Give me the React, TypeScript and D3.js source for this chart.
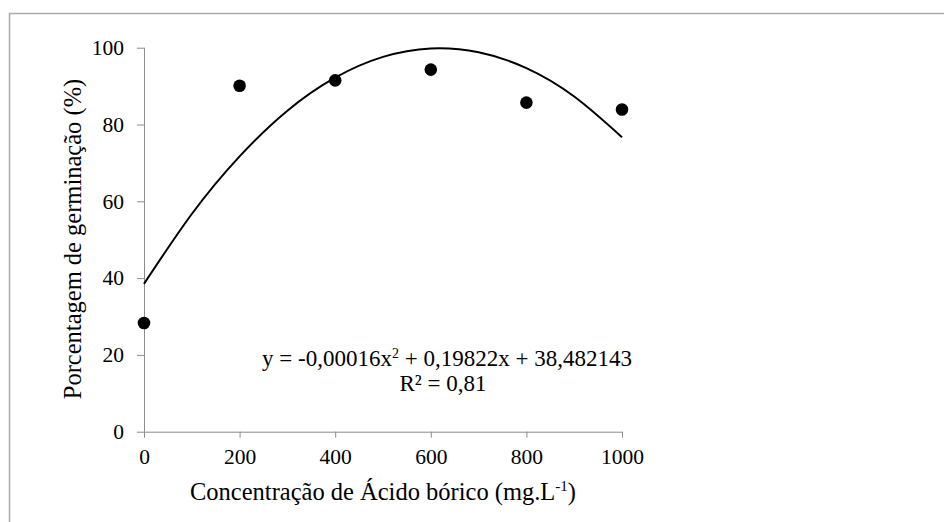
import React, { useEffect, useRef } from "react";
import * as d3 from "d3";

// pontos observados
const concentrations = [0, 200, 400, 600, 800, 1000];
const germination = [28.3, 90.1, 91.5, 94.3, 85.7, 83.9];

// linha de tendência
const trendX = [0, 100, 200, 300, 400, 500, 600, 700, 800, 900, 1000];
const trendY = [38.5, 56.7, 71.7, 83.6, 92.2, 97.6, 99.8, 98.8, 94.7, 87.3, 76.7];

const xTicks = [0, 200, 400, 600, 800, 1000];
const yTicks = [0, 20, 40, 60, 80, 100];

const xTitle = "Concentração de Ácido bórico (mg.L";
const yTitle = "Porcentagem de germinação (%)";
const equation = "y = -0,00016x";
const equationRest = " + 0,19822x + 38,482143";
const rSquared = "R² = 0,81";

export default function App() {
  const ref = useRef<SVGSVGElement>(null);

  useEffect(() => {
    const width = 944;
    const height = 522;
    const margin = { top: 47.7, left: 144, bottom: 90.3, right: 322 };
    const iwidth = width - margin.left - margin.right;
    const iheight = height - margin.top - margin.bottom;
    const font = "'Liberation Serif', 'Times New Roman', serif";
    const axisColor = "#8c8c8c";

    const svg = d3.select(ref.current);
    svg.selectAll("*").remove();

    svg
      .append("rect")
      .attr("x", 9.5)
      .attr("y", 13.5)
      .attr("width", 960)
      .attr("height", 540)
      .attr("fill", "white")
      .attr("stroke", "#ababab")
      .attr("stroke-width", 1.5);

    const g = svg
      .append("g")
      .attr("transform", `translate(${margin.left},${margin.top})`);

    const x = d3.scaleLinear().domain([0, 1000]).range([0, iwidth]);
    const y = d3.scaleLinear().domain([0, 100]).range([iheight, 0]);

    // eixo y
    const yAxis = g
      .append("g")
      .call(
        d3
          .axisLeft(y)
          .tickValues(yTicks)
          .tickSize(7)
          .tickPadding(13)
      );
    yAxis.select(".domain").attr("stroke", axisColor).attr("d", `M0.5,${iheight}V0`);
    yAxis.selectAll(".tick line").attr("stroke", axisColor);
    yAxis
      .selectAll("text")
      .attr("fill", "#000")
      .style("font-family", font)
      .style("font-size", "21.5px");

    // eixo x
    const xAxis = g
      .append("g")
      .attr("transform", `translate(0,${iheight})`)
      .call(
        d3
          .axisBottom(x)
          .tickValues(xTicks)
          .tickFormat(d3.format("d"))
          .tickSize(6)
          .tickPadding(11)
      );
    xAxis.select(".domain").attr("stroke", axisColor).attr("d", `M0,0.5H${iwidth}`);
    xAxis.selectAll(".tick line").attr("stroke", axisColor);
    xAxis
      .selectAll("text")
      .attr("fill", "#000")
      .style("font-family", font)
      .style("font-size", "21.5px");

    // tendência
    const line = d3
      .line<number>()
      .x((_, i) => x(trendX[i]))
      .y((d) => y(d))
      .curve(d3.curveNatural);
    g.append("path")
      .datum(trendY)
      .attr("d", line)
      .attr("fill", "none")
      .attr("stroke", "#000")
      .attr("stroke-width", 2);

    // pontos
    g.selectAll("circle.pt")
      .data(germination)
      .enter()
      .append("circle")
      .attr("class", "pt")
      .attr("cx", (_, i) => x(concentrations[i]))
      .attr("cy", (d) => y(d))
      .attr("r", 6.3)
      .attr("fill", "#000");

    // equação
    const eq = svg
      .append("text")
      .attr("x", 447)
      .attr("y", 366)
      .attr("text-anchor", "middle")
      .style("font-family", font)
      .style("font-size", "23px");
    eq.append("tspan").text(equation);
    eq.append("tspan").attr("dy", -8).style("font-size", "14px").text("2");
    eq.append("tspan").attr("dy", 8).text(equationRest);

    svg
      .append("text")
      .attr("x", 443)
      .attr("y", 391)
      .attr("text-anchor", "middle")
      .style("font-family", font)
      .style("font-size", "23px")
      .text(rSquared);

    // títulos
    const xt = svg
      .append("text")
      .attr("x", 383)
      .attr("y", 500)
      .attr("text-anchor", "middle")
      .style("font-family", font)
      .style("font-size", "24.5px");
    xt.append("tspan").text(xTitle);
    xt.append("tspan").attr("dy", -9).style("font-size", "15px").text("-1");
    xt.append("tspan").attr("dy", 9).text(")");

    svg
      .append("text")
      .attr("transform", `translate(81,239) rotate(-90)`)
      .attr("text-anchor", "middle")
      .style("font-family", font)
      .style("font-size", "24.5px")
      .text(yTitle);
  }, []);

  return (
    <svg
      ref={ref}
      width={944}
      height={522}
      style={{ position: "absolute", left: 0, top: 0, background: "white" }}
    />
  );
}
